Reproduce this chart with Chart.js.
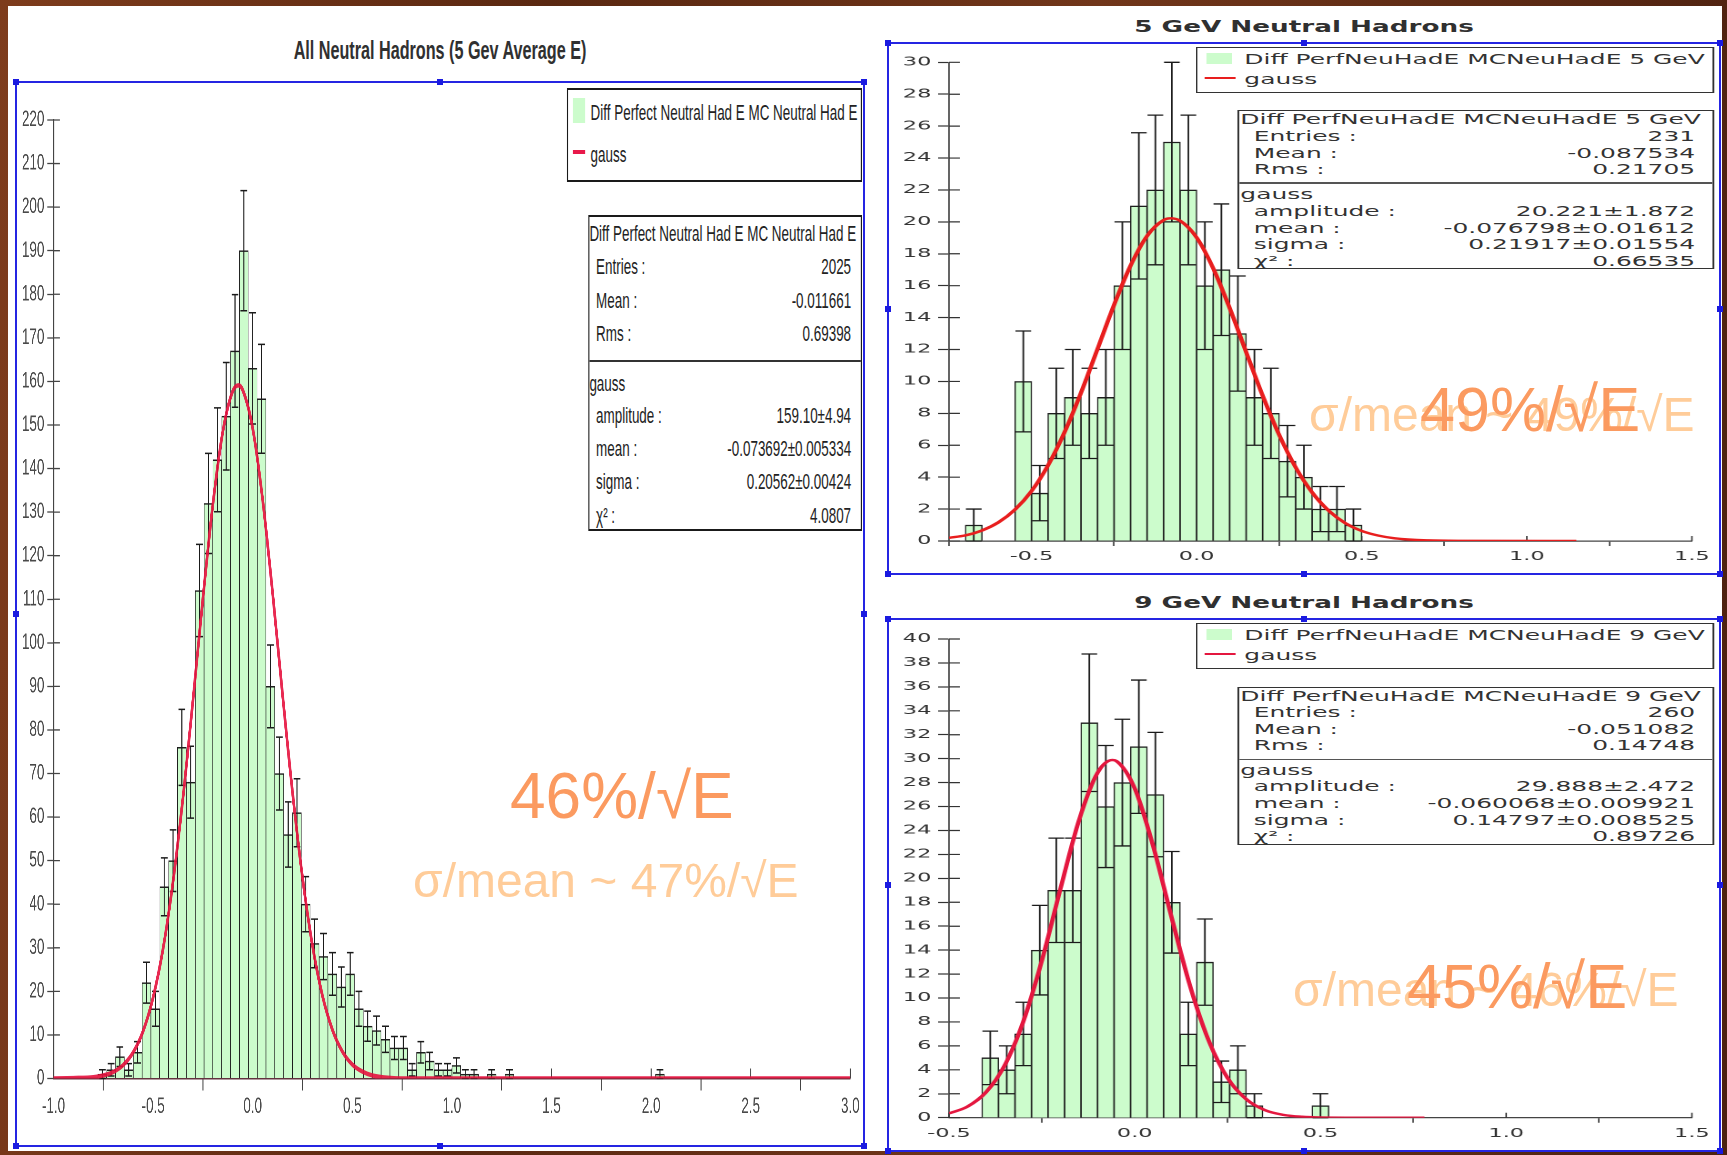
<!DOCTYPE html>
<html lang="en">
<head>
<meta charset="utf-8">
<title>Neutral hadron energy resolution</title>
<script src="https://cdn.jsdelivr.net/npm/chart.js@4.4.1/dist/chart.umd.min.js"></script>
<style>
  html, body { margin: 0; padding: 0; }
  body {
    position: relative; width: 1727px; height: 1155px; overflow: hidden;
    background: linear-gradient(95deg, #7e3c1c 0%, #5a2811 30%, #71361a 60%, #4c2110 100%);
  }
  .sheet { position: absolute; left: 8px; top: 6px; width: 1714px; height: 1145px; background: #fff; }
  .wrap { position: absolute; transform-origin: 0 0; }
  .wrap canvas { position: absolute; left: 0; top: 0; }
  .box { position: absolute; box-sizing: border-box; border-style: solid; background: #fff; }
  .row { position: absolute; white-space: nowrap; }
  .frame { position: absolute; box-sizing: border-box; border: 2px solid #2525e2; }
  .handle { position: absolute; width: 6px; height: 6px; background: #1a1ae0; }
  .title { position: absolute; white-space: nowrap; color: #303030; font-weight: bold; line-height: 1; }
  .note { position: absolute; white-space: nowrap; font-family: "Liberation Sans", Arial, sans-serif; line-height: 1; }
</style>
</head>
<body>
<div class="sheet"></div>

<div class="title" style="left:440px;top:50px;font-family:'Liberation Sans';font-size:25px;transform:translate(-50%,-50%) scaleX(0.647)">All Neutral Hadrons (5 Gev Average E)</div>
<div class="title" style="left:1304px;top:27px;font-family:'DejaVu Sans';font-size:16.5px;transform:translate(-50%,-50%) scaleX(1.59)">5 GeV Neutral Hadrons</div>
<div class="title" style="left:1304px;top:603px;font-family:'DejaVu Sans';font-size:16.5px;transform:translate(-50%,-50%) scaleX(1.59)">9 GeV Neutral Hadrons</div>

<div class="wrap" id="wrapAll" style="left:16px;top:82px;width:1390px;height:1064px;transform:scaleX(0.61)">
  <canvas id="chartAll" width="1390" height="1064"></canvas>
</div>
<div class="wrap" id="wrap5" style="left:888px;top:43px;width:457px;height:531px;transform:scaleX(1.82)">
  <canvas id="chart5" width="457" height="531"></canvas>
</div>
<div class="wrap" id="wrap9" style="left:888px;top:619px;width:457px;height:532px;transform:scaleX(1.82)">
  <canvas id="chart9" width="457" height="532"></canvas>
</div>

<div class="note" style="left:413px;top:857px;font-size:48px;color:#ffcc99">σ/mean ~ 47%/√E</div>
<div class="note" style="left:510px;top:764px;font-size:64px;color:#fb9a60">46%/√E</div>
<div class="note" style="left:1309px;top:391px;font-size:48px;color:#ffcc99">σ/mean ~ 49%/√E</div>
<div class="note" style="left:1420px;top:378px;font-size:63px;color:#fb9a60">49%/√E</div>
<div class="note" style="left:1293px;top:966px;font-size:48px;color:#ffcc99">σ/mean ~ 46%/√E</div>
<div class="note" style="left:1407px;top:955px;font-size:63px;color:#fb9a60">45%/√E</div>

<script>
// ---------- data ----------

// all neutral hadrons: 90 bins from -1 to 3
const allBinStart = -1;
const allBinWidth = 4 / 90;
const allCounts = [
  0, 0, 0, 0, 0, 1, 2, 5, 2, 6,
  22, 16, 44, 50, 76, 68, 112, 132, 142, 152,
  167, 190, 163, 156, 90, 70, 56, 61, 40, 31,
  28, 24, 21, 24, 16, 12, 11, 9, 7, 7,
  2, 6, 4, 2, 2, 3, 1, 1, 0, 1,
  0, 1, 0, 0, 0, 0, 0, 0, 0, 0,
  0, 0, 0, 0, 0, 0, 0, 0, 1, 0,
  0, 0, 0, 0, 0, 0, 0, 0, 0, 0,
  0, 0, 0, 0, 0, 0, 0, 0, 0, 0
];
const allFitX = [-1, -0.9, -0.8, -0.75, -0.7, -0.65, -0.6, -0.55, -0.5, -0.45, -0.4, -0.35, -0.3, -0.25, -0.2, -0.15, -0.1, -0.07,
  -0.05, 0, 0.05, 0.1, 0.15, 0.2, 0.25, 0.3, 0.35, 0.4, 0.45, 0.5, 0.55, 0.6, 0.7, 0.8, 1, 2, 3];
const allFitY = [0, 0.1, 0.3, 0.7, 1.5, 3.1, 6, 10.9, 18.6, 29.8, 45.2, 64.5, 86.8, 110.2, 131.8, 148.5, 157.8, 159.1,
  158, 149.2, 132.8, 111.4, 88, 65.6, 46.1, 30.5, 19, 11.2, 6.2, 3.2, 1.6, 0.7, 0.1, 0, 0, 0, 0];
const allXTicks = [-1, -0.5, 0, 0.5, 1, 1.5, 2, 2.5, 3];

// 5 GeV: 45 bins from -0.75 to 1.5
const gev5BinStart = -0.75;
const gev5BinWidth = 0.05;
const gev5Counts = [
  0, 1, 0, 0, 10, 3, 8, 9, 8, 9,
  16, 21, 22, 25, 22, 16, 17, 13, 9, 8,
  5, 4, 2, 2, 1, 0, 0, 0, 0, 0,
  0, 0, 0, 0, 0, 0, 0, 0, 0, 0,
  0, 0, 0, 0, 0
];
const gev5FitX = [-0.75, -0.7, -0.65, -0.6, -0.55, -0.5, -0.45, -0.4, -0.35, -0.3, -0.25, -0.2, -0.15, -0.1, -0.08, -0.05,
  0, 0.05, 0.1, 0.15, 0.2, 0.25, 0.3, 0.35, 0.4, 0.45, 0.5, 0.55, 0.6, 0.7, 0.8, 1.15];
const gev5FitY = [0.2, 0.35, 0.66, 1.17, 1.97, 3.13, 4.74, 6.82, 9.3, 12.04, 14.8, 17.26, 19.12, 20.11, 20.22, 20.07,
  19.02, 17.1, 14.6, 11.84, 9.11, 6.65, 4.61, 3.04, 1.9, 1.12, 0.63, 0.34, 0.17, 0.04, 0.01, 0];
const gev5XTicks = [-0.5, 0, 0.5, 1, 1.5];

// 9 GeV: 45 bins from -0.5 to 1.5
const gev9BinStart = -0.5;
const gev9BinWidth = 2 / 45;
const gev9Counts = [
  0, 0, 5, 4, 7, 14, 19, 19, 33, 26,
  28, 31, 27, 18, 7, 13, 3, 4, 1, 0,
  0, 0, 1, 0, 0, 0, 0, 0, 0, 0,
  0, 0, 0, 0, 0, 0, 0, 0, 0, 0,
  0, 0, 0, 0, 0
];
const gev9FitX = [-0.5, -0.45, -0.4, -0.35, -0.3, -0.25, -0.2, -0.15, -0.1, -0.06, -0.05, 0, 0.05, 0.1, 0.15, 0.2,
  0.25, 0.3, 0.35, 0.4, 0.45, 0.5, 0.6, 0.78];
const gev9FitY = [0.36, 0.93, 2.14, 4.38, 8.03, 13.12, 19.12, 24.85, 28.82, 29.89, 29.82, 27.52, 22.66, 16.65, 10.91, 6.38,
  3.32, 1.55, 0.64, 0.24, 0.08, 0.02, 0, 0];
const gev9XTicks = [-0.5, 0, 0.5, 1, 1.5];

// legend and statistics texts
const allHistName = "Diff Perfect Neutral Had E MC Neutral Had E";
const allHistStats = [["Entries :", "2025"], ["Mean :", "-0.011661"], ["Rms :", "0.69398"]];
const allFitStats = [["amplitude :", "159.10±4.94"], ["mean :", "-0.073692±0.005334"], ["sigma :", "0.20562±0.00424"], ["χ² :", "4.0807"]];

const gev5HistName = "Diff PerfNeuHadE MCNeuHadE 5 GeV";
const gev5HistStats = [["Entries :", "231"], ["Mean :", "-0.087534"], ["Rms :", "0.21705"]];
const gev5FitStats = [["amplitude :", "20.221±1.872"], ["mean :", "-0.076798±0.01612"], ["sigma :", "0.21917±0.01554"], ["χ² :", "0.66535"]];

const gev9HistName = "Diff PerfNeuHadE MCNeuHadE 9 GeV";
const gev9HistStats = [["Entries :", "260"], ["Mean :", "-0.051082"], ["Rms :", "0.14748"]];
const gev9FitStats = [["amplitude :", "29.888±2.472"], ["mean :", "-0.060068±0.009921"], ["sigma :", "0.14797±0.008525"], ["χ² :", "0.89726"]];

const barFill = "#ccfccc";

// ---------- plugins ----------

// sqrt(n) error bars on top of each bin
const errorBars = {
  id: "errorBars",
  afterDatasetDraw(chart, args, o) {
    if (args.index !== 0) return;
    const ctx = chart.ctx;
    const ys = chart.scales.y;
    const pts = chart.data.datasets[0].data;
    ctx.save();
    ctx.strokeStyle = o.color;
    args.meta.data.forEach((bar, i) => {
      const n = pts[i].y;
      if (!n) return;
      const e = Math.sqrt(n);
      const top = ys.getPixelForValue(n + e);
      const bot = ys.getPixelForValue(n - e);
      const half = bar.width * o.cap / 2;
      ctx.lineWidth = o.lw;
      ctx.beginPath();
      ctx.moveTo(bar.x, top);
      ctx.lineTo(bar.x, bot);
      ctx.stroke();
      ctx.lineWidth = o.capW;
      ctx.beginPath();
      ctx.moveTo(bar.x - half, top);
      ctx.lineTo(bar.x + half, top);
      ctx.moveTo(bar.x - half, bot);
      ctx.lineTo(bar.x + half, bot);
      ctx.stroke();
    });
    ctx.restore();
  }
};

// tick marks that cross the axis into the plot area
const innerTicks = {
  id: "innerTicks",
  beforeDatasetsDraw(chart, args, o) {
    const { ctx, scales: { x, y } } = chart;
    ctx.save();
    ctx.strokeStyle = o.color;
    ctx.lineWidth = o.xw;
    ctx.beginPath();
    x.ticks.forEach(t => {
      const px = x.getPixelForValue(t.value);
      ctx.moveTo(px, y.bottom);
      ctx.lineTo(px, y.bottom - o.x);
    });
    ctx.stroke();
    ctx.lineWidth = o.yw;
    ctx.beginPath();
    y.ticks.forEach(t => {
      const py = y.getPixelForValue(t.value);
      ctx.moveTo(x.left, py);
      ctx.lineTo(x.left + o.y, py);
    });
    ctx.stroke();
    ctx.restore();
  }
};

function histogram(id, h, st) {
  const bars = h.counts.map((n, i) => ({ x: h.binStart + (i + 0.5) * h.binWidth, y: n }));
  const fit = h.fitX.map((x, i) => ({ x: x, y: h.fitY[i] }));
  const tickFont = { family: st.family, size: st.tickSize };
  return new Chart(document.getElementById(id), {
    type: "bar",
    data: {
      datasets: [
        {
          data: bars, backgroundColor: barFill, borderColor: "#1e1e1e", borderWidth: st.barBorder,
          borderSkipped: false, barPercentage: 1, categoryPercentage: 1, order: 1
        },
        {
          type: "line", data: fit, borderColor: st.fitColor, borderWidth: st.fitWidth, pointRadius: 0,
          cubicInterpolationMode: "monotone", fill: false, order: 0
        }
      ]
    },
    options: {
      responsive: false,
      animation: false,
      devicePixelRatio: 2,
      layout: { padding: st.padding },
      plugins: {
        legend: { display: false },
        tooltip: { enabled: false },
        errorBars: st.err,
        innerTicks: st.inner
      },
      scales: {
        x: {
          type: "linear", min: h.xMin, max: h.xMax, offset: false, z: st.xz,
          afterBuildTicks: s => { s.ticks = h.xTicks.map(v => ({ value: v })); },
          afterFit: s => { s.height = st.xHeight; s.paddingLeft = 0; s.paddingRight = 0; },
          ticks: { font: tickFont, color: st.tickColor, padding: st.xPad, maxRotation: 0, autoSkip: false, callback: v => v.toFixed(1) },
          grid: { drawOnChartArea: false, tickLength: st.xTick, tickWidth: st.xTickW, tickColor: st.axisColor },
          border: { color: st.xBorder, width: st.xBorderW }
        },
        y: {
          min: 0, max: h.yMax,
          afterFit: s => { s.width = st.yWidth; s.paddingTop = 0; s.paddingBottom = 0; },
          ticks: { stepSize: h.yStep, font: tickFont, color: st.tickColor, padding: st.yPad, autoSkip: false },
          grid: { drawOnChartArea: false, tickLength: st.yTick, tickWidth: st.yTickW, tickColor: st.axisColor },
          border: { color: st.axisColor, width: st.yBorderW }
        }
      }
    },
    plugins: [errorBars, innerTicks]
  });
}

const leftStyle = {
  family: "Liberation Sans", tickSize: 22, tickColor: "#4a4a4a", axisColor: "#444",
  padding: { top: 38, right: 22.3, left: 0, bottom: 0 }, xHeight: 67.5, yWidth: 61.5,
  xPad: 3, yPad: 5, xTick: 12, yTick: 10, xTickW: 1.6, yTickW: 1.3,
  xBorder: "rgba(60,0,15,0.8)", xBorderW: 2, yBorderW: 2.2, xz: 1,
  barBorder: { top: 1.5, left: 1, right: 1, bottom: 0 },
  fitColor: "rgba(230,18,62,0.9)", fitWidth: 4.5,
  err: { color: "#1a1a1a", lw: 1.7, capW: 1.5, cap: 0.77 },
  inner: { x: 10, y: 10, color: "#444", xw: 1.6, yw: 1.3 }
};
const rightStyle = {
  family: "DejaVu Sans", tickSize: 12.3, tickColor: "#333", axisColor: "#333",
  padding: { top: 19.3, right: 15.3, left: 0, bottom: 0 }, xHeight: 33, yWidth: 33.5,
  xPad: 3.5, yPad: 3.7, xTick: 5, yTick: 6, xTickW: 0.8, yTickW: 1.2,
  xBorder: "#444", xBorderW: 1.3, yBorderW: 0.8, xz: 0,
  barBorder: { top: 1.4, left: 0.75, right: 0.75, bottom: 0 },
  fitColor: "#e81e1e", fitWidth: 2.4,
  err: { color: "#1a1a1a", lw: 0.9, capW: 1.3, cap: 0.95 },
  inner: { x: 5, y: 6, color: "#333", xw: 0.8, yw: 1.2 }
};

histogram("chartAll", {
  counts: allCounts, binStart: allBinStart, binWidth: allBinWidth, fitX: allFitX, fitY: allFitY,
  xTicks: allXTicks, xMin: -1, xMax: 3, yMax: 220, yStep: 10
}, leftStyle);
histogram("chart5", {
  counts: gev5Counts, binStart: gev5BinStart, binWidth: gev5BinWidth, fitX: gev5FitX, fitY: gev5FitY,
  xTicks: gev5XTicks, xMin: -0.75, xMax: 1.5, yMax: 30, yStep: 2
}, rightStyle);
histogram("chart9", {
  counts: gev9Counts, binStart: gev9BinStart, binWidth: gev9BinWidth, fitX: gev9FitX, fitY: gev9FitY,
  xTicks: gev9XTicks, xMin: -0.5, xMax: 1.5, yMax: 40, yStep: 2
}, Object.assign({}, rightStyle, { padding: { top: 20, right: 15.3, left: 0, bottom: 0 }, xHeight: 33.3, fitColor: "#e4173f" }));

// ---------- legend and statistics boxes (HTML, inside the stretched wrappers) ----------

function el(tag, cls, parent, css, text) {
  const e = document.createElement(tag);
  if (cls) e.className = cls;
  for (const k in css) e.style[k] = typeof css[k] === "number" ? css[k] + "px" : css[k];
  if (text != null) e.textContent = text;
  parent.appendChild(e);
  return e;
}

function textRow(box, text, cy, lay, pos) {
  const css = { top: cy - lay.lineH / 2, height: lay.lineH, lineHeight: lay.lineH + "px" };
  if (pos.right != null) css.right = pos.right; else css.left = pos.left;
  return el("div", "row", box, css, text);
}

function addBoxes(wrapId, lay, name, histStats, fitStats, fitColor) {
  const wrap = document.getElementById(wrapId);
  const L = lay.legend;
  const lg = el("div", "box", wrap, { left: L.x, top: L.y, width: L.w, height: L.h, font: lay.font, color: lay.color, borderWidth: lay.border + "px", borderColor: lay.borderColor });
  el("div", null, lg, { position: "absolute", left: L.swatch[0], top: L.swatch[1], width: L.swatch[2], height: L.swatch[3], background: barFill });
  el("div", null, lg, { position: "absolute", left: L.line[0], top: L.line[1] - L.line[3] / 2, width: L.line[2], height: L.line[3], background: fitColor });
  textRow(lg, name, L.rows[0], lay, { left: L.textX });
  textRow(lg, "gauss", L.rows[1], lay, { left: L.textX });

  const S = lay.stats;
  const sb = el("div", "box", wrap, { left: S.x, top: S.y, width: S.w, height: S.h, font: lay.font, color: lay.color, borderWidth: lay.border + "px", borderColor: lay.borderColor });
  el("div", null, sb, { position: "absolute", left: 0, right: 0, top: S.divider, height: lay.divW, background: lay.divColor });
  textRow(sb, name, S.rows[0], lay, { left: S.titleX });
  histStats.forEach((r, i) => {
    textRow(sb, r[0], S.rows[1 + i], lay, { left: S.labelX });
    textRow(sb, r[1], S.rows[1 + i], lay, { right: S.valueRight });
  });
  textRow(sb, "gauss", S.rows[4], lay, { left: S.titleX });
  fitStats.forEach((r, i) => {
    textRow(sb, r[0], S.rows[5 + i], lay, { left: S.labelX });
    textRow(sb, r[1], S.rows[5 + i], lay, { right: S.valueRight });
  });
}

addBoxes("wrapAll", {
  font: '22px "Liberation Sans"', color: "#222", lineH: 26, border: 2, borderColor: "#1a1a1a", divW: 2, divColor: "#333",
  legend: { x: 903, y: 6, w: 484, h: 94, swatch: [8, 8, 20, 25], line: [8, 62, 20, 4], textX: 37, rows: [23, 65] },
  stats: { x: 938, y: 133, w: 449, h: 316, divider: 143, titleX: 0, labelX: 11, valueRight: 16,
           rows: [16.5, 49.5, 83.7, 116.7, 167.4, 199.3, 232.4, 265.4, 298.5] }
}, allHistName, allHistStats, allFitStats, "#e8194a");

addBoxes("wrap5", {
  font: '13.7px "DejaVu Sans"', color: "#333", lineH: 16, border: 1.3, borderColor: "#333", divW: 1.3, divColor: "#555",
  legend: { x: 169.2, y: 3.7, w: 285, h: 46.6, swatch: [4.6, 5, 14.2, 11], line: [4, 30, 17, 2], textX: 25.6, rows: [11.3, 31] },
  stats: { x: 192.3, y: 67, w: 262, h: 159.3, divider: 71.4, titleX: 0.3, labelX: 7.7, valueRight: 9.8,
           rows: [7.7, 24.7, 41.7, 58, 83, 99.7, 116.7, 133, 149.7] }
}, gev5HistName, gev5HistStats, gev5FitStats, "#e81e1e");

addBoxes("wrap9", {
  font: '13.7px "DejaVu Sans"', color: "#333", lineH: 16, border: 1.3, borderColor: "#333", divW: 1.3, divColor: "#555",
  legend: { x: 169.2, y: 4.3, w: 285, h: 46, swatch: [4.6, 4.4, 14.2, 11], line: [4, 29.7, 17, 2], textX: 25.6, rows: [11.1, 30.7] },
  stats: { x: 192.3, y: 67.7, w: 262, h: 158.3, divider: 71.3, titleX: 0.3, labelX: 7.7, valueRight: 9.8,
           rows: [8, 24.7, 41.3, 57.7, 82.3, 98.7, 115.3, 132, 148.7] }
}, gev9HistName, gev9HistStats, gev9FitStats, "#e4173f");

// ---------- blue selection frames ----------
const frames = [[16, 82, 864, 1146], [888, 43, 1720, 574], [888, 619, 1720, 1151]];
frames.forEach(([x1, y1, x2, y2]) => {
  el("div", "frame", document.body, { left: x1 - 1, top: y1 - 1, width: x2 - x1 + 2, height: y2 - y1 + 2 });
  const xs = [x1, (x1 + x2) / 2, x2], ys = [y1, (y1 + y2) / 2, y2];
  ys.forEach((y, j) => xs.forEach((x, i) => {
    if (i === 1 && j === 1) return;
    el("div", "handle", document.body, { left: x - 3, top: y - 3 });
  }));
});
</script>
</body>
</html>
